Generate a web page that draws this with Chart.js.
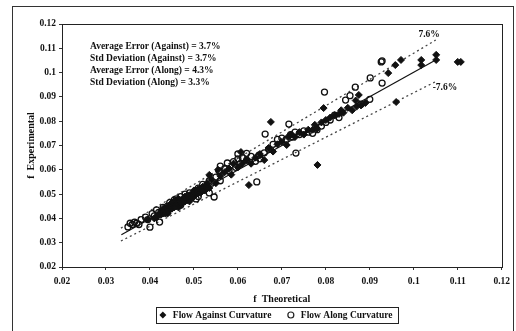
<!DOCTYPE html>
<html><head><meta charset="utf-8">
<script src="https://cdn.jsdelivr.net/npm/chart.js@4.4.1/dist/chart.umd.min.js"></script>
<style>html,body{margin:0;padding:0;background:#fff}#wrap{width:516px;height:331px;position:relative}</style>
</head><body><div id="wrap"><canvas id="c" width="516" height="331"></canvas></div>
<script>
const xTickValues = [0.02,0.03,0.04,0.05,0.06,0.07,0.08,0.09,0.10,0.11,0.12];
const yTickValues = [0.02,0.03,0.04,0.05,0.06,0.07,0.08,0.09,0.10,0.11,0.12];
const seriesNames = ['Flow Against Curvature','Flow Along Curvature'];
const statsLines = ['Average Error (Against) = 3.7%','Std Deviation (Against) = 3.7%','Average Error (Along) = 4.3%','Std Deviation (Along) = 3.3%'];
const bandLabels = ['7.6%','-7.6%'];
const bandLabelPos = [[0.1035,0.1155],[0.1071,0.0937]];

const againstX = [0.0395,0.041,0.042,0.0425,0.043,0.0435,0.044,0.044,0.0445,0.045,0.045,0.0455,0.046,0.046,0.0465,0.047,0.047,0.0475,0.048,0.048,0.0485,0.049,0.049,0.0495,0.050,0.050,0.0505,0.051,0.0515,0.052,0.0525,0.053,0.0535,0.054,0.0535,0.055,0.056,0.0555,0.057,0.058,0.0585,0.059,0.060,0.0607,0.061,0.0625,0.062,0.063,0.064,0.065,0.066,0.0675,0.067,0.068,0.069,0.070,0.0711,0.0714,0.072,0.073,0.074,0.075,0.076,0.077,0.0775,0.078,0.0781,0.079,0.0795,0.080,0.081,0.082,0.083,0.0835,0.084,0.085,0.086,0.087,0.088,0.089,0.0868,0.0875,0.0942,0.0958,0.0971,0.096,0.1017,0.1017,0.1051,0.1051,0.1100,0.1107,0.0445,0.0465,0.0475,0.049,0.0415,0.043,
  0.0425,0.043,0.0435,0.044,0.0445,0.045,0.0455,0.046,0.0465,0.047,0.0475,0.048,0.0485,0.049,0.0495,0.050,0.0505,0.051,0.0515,0.052,0.0525,0.053];
const againstY = [0.0395,0.040,0.0415,0.043,0.042,0.0435,0.0445,0.042,0.0455,0.044,0.046,0.047,0.045,0.0475,0.046,0.0475,0.0455,0.048,0.047,0.049,0.0475,0.0485,0.047,0.050,0.049,0.0515,0.050,0.052,0.0505,0.053,0.0515,0.0545,0.0525,0.056,0.0579,0.0545,0.0575,0.060,0.059,0.0605,0.058,0.0625,0.061,0.0673,0.0625,0.0537,0.064,0.0625,0.065,0.0665,0.064,0.0797,0.069,0.0675,0.0705,0.0715,0.0702,0.0735,0.0745,0.0735,0.0755,0.0745,0.0765,0.0765,0.0785,0.077,0.062,0.0795,0.0854,0.0805,0.0815,0.0825,0.083,0.0845,0.0835,0.0855,0.0845,0.086,0.0865,0.0875,0.0885,0.0908,0.0998,0.1031,0.1052,0.0879,0.1052,0.1031,0.1073,0.1052,0.1044,0.1044,0.0435,0.0445,0.0465,0.0495,0.0405,0.0425,
  0.0415,0.044,0.042,0.0435,0.044,0.0465,0.0445,0.0465,0.048,0.0465,0.047,0.0485,0.049,0.0495,0.0485,0.0505,0.0515,0.0505,0.052,0.0515,0.053,0.0525];

const alongX = [0.035,0.0355,0.036,0.0365,0.037,0.0375,0.038,0.039,0.040,0.0395,0.0405,0.041,0.0415,0.0422,0.042,0.043,0.044,0.0445,0.045,0.0455,0.046,0.047,0.048,0.049,0.050,0.051,0.052,0.053,0.0535,0.054,0.055,0.0557,0.056,0.057,0.0576,0.058,0.059,0.0595,0.060,0.0605,0.061,0.062,0.063,0.0648,0.064,0.065,0.0662,0.066,0.067,0.068,0.069,0.070,0.071,0.0716,0.072,0.0725,0.0732,0.073,0.074,0.075,0.076,0.077,0.078,0.079,0.0797,0.080,0.081,0.082,0.083,0.0845,0.0867,0.0855,0.0901,0.0926,0.0928,0.0928,0.088,0.090,0.0535,0.051,0.056,0.0546,
  0.0643,0.044,0.047,0.0505,0.060,0.062];
const alongY = [0.0365,0.038,0.0375,0.0385,0.038,0.0375,0.0395,0.0405,0.0364,0.0395,0.042,0.041,0.0435,0.0385,0.0425,0.0445,0.045,0.0465,0.0455,0.0475,0.048,0.049,0.050,0.0505,0.0505,0.0525,0.054,0.0535,0.0555,0.0545,0.057,0.0596,0.0615,0.0605,0.0628,0.0595,0.0634,0.061,0.0645,0.0625,0.065,0.064,0.0655,0.066,0.0635,0.0645,0.0747,0.067,0.0685,0.0705,0.0725,0.073,0.0725,0.0788,0.0745,0.0735,0.0669,0.0755,0.0745,0.076,0.0755,0.075,0.0765,0.078,0.092,0.0795,0.0805,0.0825,0.0815,0.0887,0.094,0.0905,0.0978,0.1044,0.1048,0.0957,0.087,0.089,0.0505,0.049,0.0555,0.0488,
  0.055,0.0425,0.0455,0.048,0.0665,0.0668];

const fitX = [0.0335,0.105];
const fitY = [0.0333,0.1052];
const upperX = [0.0334,0.105];
const upperY = [0.036,0.1134];
const lowerX = [0.0334,0.105];
const lowerY = [0.0307,0.0963];

const zip = (xs, ys) => xs.map((x, i) => ({x, y: ys[i]}));
const SERIF = "'Liberation Serif','DejaVu Serif',serif";
const INK = '#111';

const decor = {
  id: 'decor',
  beforeDraw(chart) {
    const ctx = chart.ctx;
    ctx.save();
    ctx.fillStyle = '#fff';
    ctx.fillRect(0, 0, chart.width, chart.height);
    ctx.strokeStyle = '#333';
    ctx.lineWidth = 1;
    ctx.strokeRect(12.5, 6.5, 501, 340);
    ctx.restore();
  },
  afterDraw(chart) {
    const ctx = chart.ctx;
    const a = chart.chartArea;
    const xs = chart.scales.x, ys = chart.scales.y;
    ctx.save();
    ctx.strokeStyle = '#222';
    ctx.lineWidth = 1;
    ctx.strokeRect(Math.round(a.left) + 0.5, Math.round(a.top) + 0.5, Math.round(a.right - a.left), Math.round(a.bottom - a.top));
    ctx.fillStyle = INK;
    ctx.font = 'bold 9.5px ' + SERIF;
    ctx.textBaseline = 'middle';
    ctx.textAlign = 'left';
    statsLines.forEach((t, i) => ctx.fillText(t, a.left + 28, a.top + 23 + i * 12));
    ctx.textAlign = 'center';
    bandLabels.forEach((t, i) => ctx.fillText(t, xs.getPixelForValue(bandLabelPos[i][0]), ys.getPixelForValue(bandLabelPos[i][1])));

    // legend (drawn manually to match the reference spacing)
    const cx = (a.left + a.right) / 2 - 5;
    const boxL = cx - 121, boxR = cx + 121, boxT = 307, boxB = 323, midY = 315;
    ctx.strokeStyle = '#222';
    ctx.strokeRect(Math.round(boxL) + 0.5, boxT + 0.5, Math.round(boxR - boxL), boxB - boxT);
    ctx.font = 'bold 9.5px ' + SERIF;
    ctx.textAlign = 'left';
    const dx = boxL + 7;
    ctx.beginPath();
    ctx.moveTo(dx, midY - 3.5); ctx.lineTo(dx + 3.5, midY); ctx.lineTo(dx, midY + 3.5); ctx.lineTo(dx - 3.5, midY); ctx.closePath();
    ctx.fillStyle = INK; ctx.fill();
    ctx.fillText(seriesNames[0], dx + 10, midY + 0.5);
    const ox = boxL + 135;
    ctx.beginPath(); ctx.arc(ox, midY, 3, 0, Math.PI * 2);
    ctx.lineWidth = 1.2; ctx.stroke();
    ctx.fillText(seriesNames[1], ox + 10, midY + 0.5);
    ctx.restore();
  }
};

const tickFmt = v => String(parseFloat(Number(v).toFixed(3)));

new Chart(document.getElementById('c'), {
  type: 'scatter',
  data: {
    datasets: [
      {label: seriesNames[0], data: zip(againstX, againstY), pointStyle: 'rectRot', pointRadius: 3.5, backgroundColor: INK, borderColor: INK, borderWidth: 1, order: 2},
      {label: seriesNames[1], data: zip(alongX, alongY), pointStyle: 'circle', pointRadius: 3, backgroundColor: 'rgba(255,255,255,0)', borderColor: INK, borderWidth: 1.3, order: 1},
      {label: 'fit', type: 'line', data: zip(fitX, fitY), borderColor: INK, borderWidth: 1.2, pointRadius: 0, showLine: true, fill: false, order: 3},
      {label: 'upper', type: 'line', data: zip(upperX, upperY), borderColor: '#444', borderWidth: 1.3, borderDash: [2, 3], pointRadius: 0, showLine: true, fill: false, order: 3},
      {label: 'lower', type: 'line', data: zip(lowerX, lowerY), borderColor: '#444', borderWidth: 1.3, borderDash: [2, 3], pointRadius: 0, showLine: true, fill: false, order: 3}
    ]
  },
  options: {
    responsive: false,
    animation: false,
    devicePixelRatio: 1,
    layout: {padding: {left: 20, right: 14, top: 24, bottom: 26}},
    plugins: {
      tooltip: {enabled: false},
      legend: {display: false}
    },
    scales: {
      x: {
        type: 'linear', min: 0.02, max: 0.12,
        afterBuildTicks: s => { s.ticks = xTickValues.map(v => ({value: v})); },
        afterFit: s => { s.height = 38; },
        ticks: {callback: tickFmt, color: INK, padding: 6, font: {family: SERIF, size: 9.5, weight: 'bold'}, maxRotation: 0},
        grid: {display: true, drawOnChartArea: false, drawTicks: true, tickLength: 3, color: '#333'},
        border: {display: true, color: '#222'},
        title: {display: true, text: 'f  Theoretical', color: INK, padding: {top: 0, bottom: 0}, font: {family: SERIF, size: 10, weight: 'bold'}}
      },
      y: {
        type: 'linear', min: 0.02, max: 0.12,
        afterBuildTicks: s => { s.ticks = yTickValues.map(v => ({value: v})); },
        afterFit: s => { s.width = 42; },
        ticks: {callback: tickFmt, color: INK, padding: 3, font: {family: SERIF, size: 9.5, weight: 'bold'}},
        grid: {display: true, drawOnChartArea: false, drawTicks: true, tickLength: 3, color: '#333'},
        border: {display: true, color: '#222'},
        title: {display: true, text: 'f  Experimental', color: INK, padding: {top: 5, bottom: 0}, font: {family: SERIF, size: 10, weight: 'bold'}}
      }
    }
  },
  plugins: [decor]
});
</script>
</body></html>
